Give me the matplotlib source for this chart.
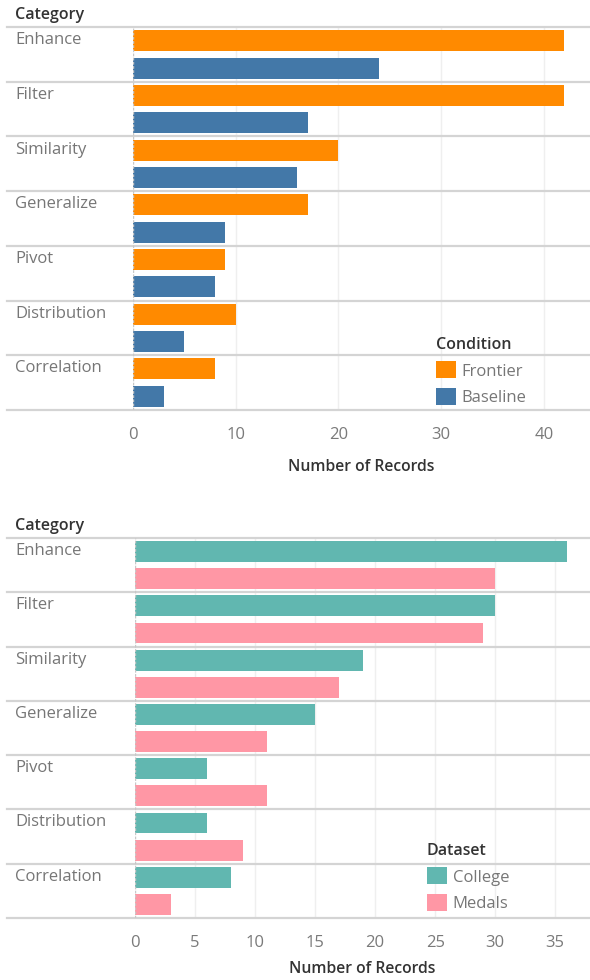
import matplotlib
matplotlib.use("Agg")
import matplotlib.pyplot as plt
import matplotlib.patches as mpatches
import numpy as np

plt.rcParams["font.family"] = ["Open Sans", "DejaVu Sans"]

CATEGORIES = ["Enhance", "Filter", "Similarity", "Generalize",
              "Pivot", "Distribution", "Correlation"]

# top panel: Condition
FRONTIER = [42, 42, 20, 17, 9, 10, 8]
BASELINE = [24, 17, 16, 9, 8, 5, 3]
COND_TICKS = [0, 10, 20, 30, 40]

# bottom panel: Dataset
COLLEGE = [36, 30, 19, 15, 6, 6, 8]
MEDALS  = [30, 29, 17, 11, 11, 9, 3]
DATA_TICKS = [0, 5, 10, 15, 20, 25, 30, 35]

ORANGE = "#FF8A00"
BLUE   = "#4378A8"
TEAL   = "#61B7B0"
PINK   = "#FF97A5"

LABEL_C  = "#767676"
HEADER_C = "#333333"
SEP_C    = "#d4d4d4"
GRID_C   = "#efefef"

W, H = 590, 980
fig = plt.figure(figsize=(W / 100, H / 100), dpi=100)
fig.patch.set_facecolor("white")


def px_axes(x0, x1, y0, y1):
    # pixel box (top-left origin) -> figure axes
    return fig.add_axes([x0 / W, 1 - y1 / H, (x1 - x0) / W, (y1 - y0) / H])


def panel(ax, s1, s2, c1, c2, n1, n2, ticks, xmax, legend_title, leg_xy,
          xlab_pad=11):
    n = len(CATEGORIES)
    y = np.arange(n)
    bh = 0.385
    ax.barh(y + 0.25, s1, height=bh, color=c1, zorder=3, label=n1)
    ax.barh(y + 0.75, s2, height=bh, color=c2, zorder=3, label=n2)
    ax.set_ylim(n, 0)
    ax.set_xlim(0, xmax)
    ax.set_yticks([])
    ax.set_xticks(ticks)
    ax.set_xticklabels([str(t) for t in ticks], fontsize=12, color="#7a7a7a")
    ax.tick_params(axis="x", length=0, pad=12.5)
    for sp in ax.spines.values():
        sp.set_visible(False)
    for t in ticks[1:]:
        ax.axvline(t, color=GRID_C, lw=1.0, zorder=1)
    ax.axvline(0, color="#c8c8c8", lw=1.0, ls=(0, (2, 1)), zorder=4)

    left_frac = ax.get_position().x0 * W
    ax_w = ax.get_position().width * W
    xmin = -(left_frac - 7) / ax_w
    for i in range(n + 1):
        ax.axhline(i, xmin=xmin, xmax=1, color=SEP_C, lw=1.6,
                   clip_on=False, zorder=2)

    trans = ax.get_yaxis_transform()
    lab_x = -(left_frac - 15) / ax_w
    for i, cat in enumerate(CATEGORIES):
        ax.text(lab_x, i + 0.24, cat, transform=trans, ha="left", va="center",
                fontsize=12, color=LABEL_C)
    ax.text(lab_x, -0.22, "Category", transform=trans, ha="left",
            va="center", fontsize=11.5, color=HEADER_C, fontweight="semibold")

    ax.set_xlabel("Number of Records", fontsize=11.3, color=HEADER_C,
                  fontweight="semibold", labelpad=xlab_pad)

    handles = [mpatches.Patch(fc=c1, ec="none", label=n1),
               mpatches.Patch(fc=c2, ec="none", label=n2)]
    leg = ax.legend(handles=handles, title=legend_title, loc="upper left",
                    bbox_to_anchor=(leg_xy[0] / W, 1 - leg_xy[1] / H),
                    bbox_transform=fig.transFigure, frameon=False,
                    fontsize=12, title_fontsize=11.5, alignment="left",
                    handlelength=1.2, handleheight=1.2, handletextpad=0.35,
                    labelspacing=0.5, borderpad=0, borderaxespad=0)
    leg.get_title().set_color(HEADER_C)
    leg.get_title().set_fontweight("semibold")
    for t in leg.get_texts():
        t.set_color(LABEL_C)


ax_top = px_axes(133, 590, 27, 410)
panel(ax_top, FRONTIER, BASELINE, ORANGE, BLUE, "Frontier", "Baseline",
      COND_TICKS, 44.5, "Condition", (436, 337))

ax_bot = px_axes(135, 590, 538, 918)
panel(ax_bot, COLLEGE, MEDALS, TEAL, PINK, "College", "Medals",
      DATA_TICKS, 37.9, "Dataset", (427, 843), xlab_pad=7)

fig.savefig("out.png", dpi=100, facecolor="white")
